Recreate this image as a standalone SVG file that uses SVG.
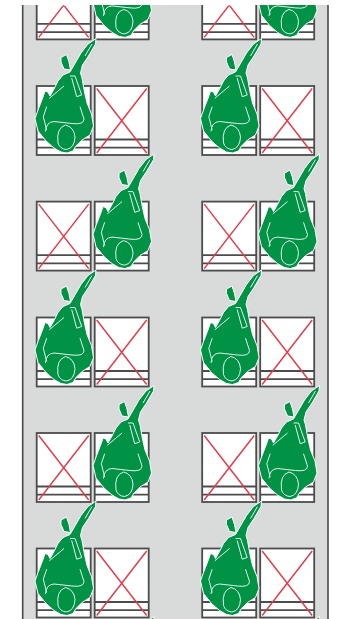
<svg xmlns="http://www.w3.org/2000/svg" xmlns:xlink="http://www.w3.org/1999/xlink" width="342" height="619" viewBox="0 0 342 619">
<style>
.frame{fill:none;stroke:#4a4a4a;stroke-width:1.6}
.box{fill:#fff;stroke:#4c4c4c;stroke-width:1.8}
.bar{fill:none;stroke:#4c4c4c;stroke-width:1.8}
.x{fill:none;stroke:#ea3545;stroke-width:1.4}
.body{fill:#009245;stroke:#fff;stroke-width:1;stroke-linejoin:round}
.in{fill:none;stroke:#e6f4ec;stroke-width:1;stroke-linejoin:round}
</style>
<defs>
<clipPath id="c"><rect x="0" y="5" width="342" height="614"/></clipPath>
<g id="seat">
<rect class="box" x="36.7" y="86" width="54" height="69"/>
<path class="bar" d="M36.7 139.5H90.7M36.7 147.700H90.7"/>
</g>
<g id="cross"><path class="x" d="M38.700 88.500L88.700 153M88.700 88.500L38.700 153"/></g>
<g id="man">
<path class="body" d="M96 38.500L95.500 44L88.500 56L82.500 65L80.500 73L82 78L84.500 92L87 103L91.500 114L93.500 126L90 135L82 140L76 146L73 151L67 153L61 152L54 148L46 141L38 131L35 118.500L38 110L43 97L45 91L48 92L50 96L54 89L58 81L63 75L70 72L81 53L88 44Z"/>
<path class="body" d="M61 57.500L66.500 54.500L69 62L70.500 70L64 69L61 62Z"/>
<path class="in" d="M58 143Q56 128 65.500 125Q74 127 75 137Q74.500 148 66.500 149.500Q60 149 58 143ZM45.500 131.500Q46 122 54 121.500L72 123.500Q84 125 84 119L80 106.700M70 76L75 76L81.700 95L76.700 96.700L71.700 78M49.300 98.300L64 86M46.700 106.700L43.300 116.700L46.700 130M85 56L92 44"/>
</g>
<g id="row-a"><use xlink:href="#seat"/><use xlink:href="#seat" x="58"/><use xlink:href="#cross" x="58"/><use xlink:href="#man"/></g>
<g id="row-b"><use xlink:href="#seat"/><use xlink:href="#seat" x="58"/><use xlink:href="#cross"/><use xlink:href="#man" x="58"/></g>
</defs>
<g clip-path="url(#c)">
<rect x="23" y="5" width="305" height="614" fill="#d9dada"/>
<path class="frame" d="M22.700 5V619M328 5V619"/>
<g id="connectors"/>
<g id="row0-left"><use xlink:href="#row-b" y="-115.600"/></g>
<g id="row0-right"><use xlink:href="#row-b" x="165.500" y="-115.600"/></g>
<g id="row1-left"><use xlink:href="#row-a"/></g>
<g id="row1-right"><use xlink:href="#row-a" x="165.500"/></g>
<g id="row2-left"><use xlink:href="#row-b" y="115.600"/></g>
<g id="row2-right"><use xlink:href="#row-b" x="165.500" y="115.600"/></g>
<g id="row3-left"><use xlink:href="#row-a" y="231.500"/></g>
<g id="row3-right"><use xlink:href="#row-a" x="165.500" y="231.500"/></g>
<g id="row4-left"><use xlink:href="#row-b" y="347"/></g>
<g id="row4-right"><use xlink:href="#row-b" x="165.500" y="347"/></g>
<g id="row5-left"><use xlink:href="#row-a" y="462.500"/></g>
<g id="row5-right"><use xlink:href="#row-a" x="165.500" y="462.500"/></g>
<g id="row6-left"><use xlink:href="#row-b" y="578"/></g>
<g id="row6-right"><use xlink:href="#row-b" x="165.500" y="578"/></g>
</g>
</svg>
